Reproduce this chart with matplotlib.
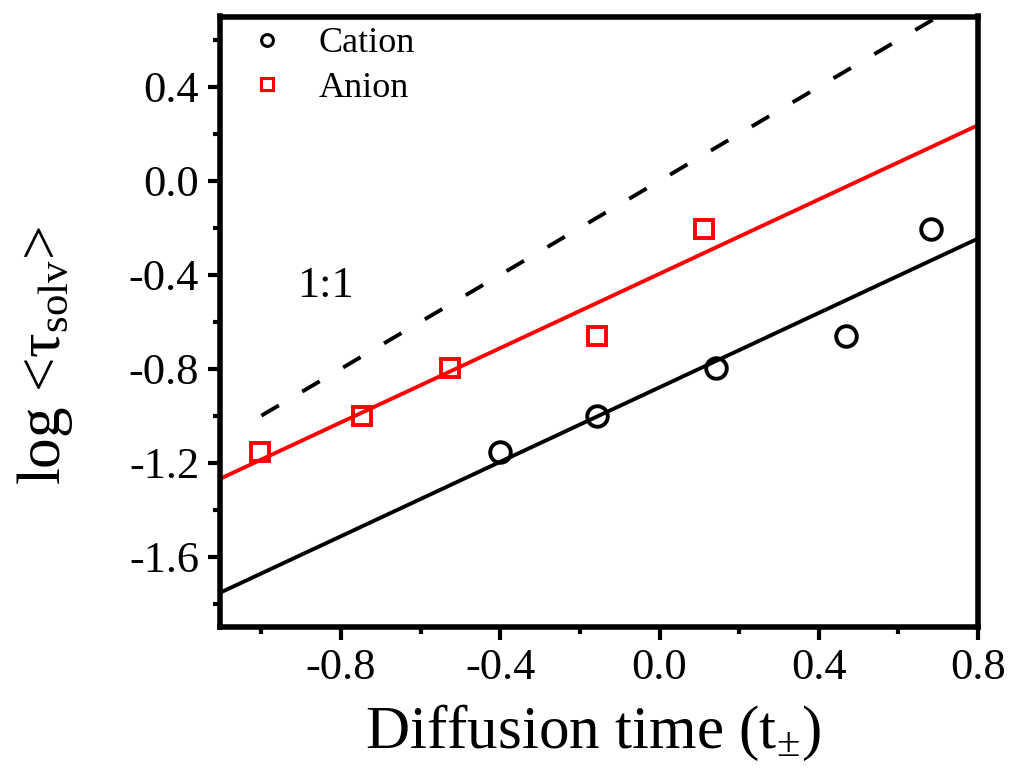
import numpy as np
import matplotlib
matplotlib.use("Agg")
import matplotlib.pyplot as plt
from matplotlib.lines import Line2D
from matplotlib.ticker import MultipleLocator, FormatStrFormatter

plt.rcParams['font.family'] = ['Liberation Serif', 'DejaVu Serif']
plt.rcParams['mathtext.fontset'] = 'custom'
plt.rcParams['mathtext.rm'] = 'Liberation Serif'
plt.rcParams['mathtext.it'] = 'Liberation Serif:italic'
plt.rcParams['axes.unicode_minus'] = False

# data
log_tau = [-1.155, -1.0, -0.797, -0.66, -0.203]
cation_t = [-0.401, -0.157, 0.143, 0.469, 0.681]
anion_t = [-1.004, -0.748, -0.527, -0.156, 0.113]
one_to_one = [-1.0, 0.8]
xticks = [-0.8, -0.4, 0.0, 0.4, 0.8]
yticks = [-1.6, -1.2, -0.8, -0.4, 0.0, 0.4]

fig = plt.figure(figsize=(10.13, 7.70), dpi=100)
ax = fig.add_axes([220/1013, 1-627/770, (978-220)/1013, (627-16.5)/770])

xlim = (-1.104, 0.8)
ax.set_xlim(*xlim)
ax.set_ylim(-1.9, 0.7)

xx = np.array(xlim)
pc = np.polyfit(cation_t, log_tau, 1)
pa = np.polyfit(anion_t, log_tau, 1)

ax.plot(xx, np.polyval(pc, xx), color='black', lw=2.8, zorder=2)
ax.plot(xx, np.polyval(pa, xx), color='#ff0000', lw=2.8, zorder=2)
dl, = ax.plot(one_to_one, one_to_one, color='black', lw=2.8, zorder=2)
dl.set_dashes([5.2, 7.0])

ax.plot(cation_t, log_tau, linestyle='none', marker='o', ms=14.8, mew=2.8,
        mfc='none', mec='black', zorder=3)
ax.plot(anion_t, log_tau, linestyle='none', marker='s', ms=13.3, mew=2.8,
        mfc='none', mec='#ff0000', zorder=3)

ax.text(-0.84, -0.447, '1:1', fontsize=32, ha='center', va='center')

handles = [Line2D([], [], linestyle='none', marker='o', ms=8.5, mew=2.2,
                  mfc='none', mec='black'),
           Line2D([], [], linestyle='none', marker='s', ms=8.0, mew=2.2,
                  mfc='none', mec='#ff0000')]
leg = ax.legend(handles, ['Cation', 'Anion'], loc='upper left',
                bbox_to_anchor=(0.038, 0.983), frameon=False, fontsize=26,
                handlelength=1.0, handletextpad=0.92, labelspacing=0.32,
                borderaxespad=0, borderpad=0)

ax.set_xticks(xticks)
ax.set_yticks(yticks)
ax.xaxis.set_minor_locator(MultipleLocator(0.2))
ax.yaxis.set_minor_locator(MultipleLocator(0.2))
ax.xaxis.set_major_formatter(FormatStrFormatter('%.1f'))
ax.yaxis.set_major_formatter(FormatStrFormatter('%.1f'))
ax.tick_params(which='major', direction='out', length=9, width=3,
               labelsize=32, pad=6)
ax.tick_params(which='minor', direction='out', length=5, width=3)
ax.tick_params(top=False, right=False, which='both')
for s in ax.spines.values():
    s.set_linewidth(4)

fig.text(593/1013, 1-748/770, r'Diffusion time (t$_{\pm}$)', fontsize=44,
         ha='center', va='baseline')
fig.text(45/1013, 1-355/770, r'log <τ$_{\mathrm{solv}}$>', fontsize=44,
         ha='center', va='center', rotation=90)

fig.savefig('out.png', dpi=100)
